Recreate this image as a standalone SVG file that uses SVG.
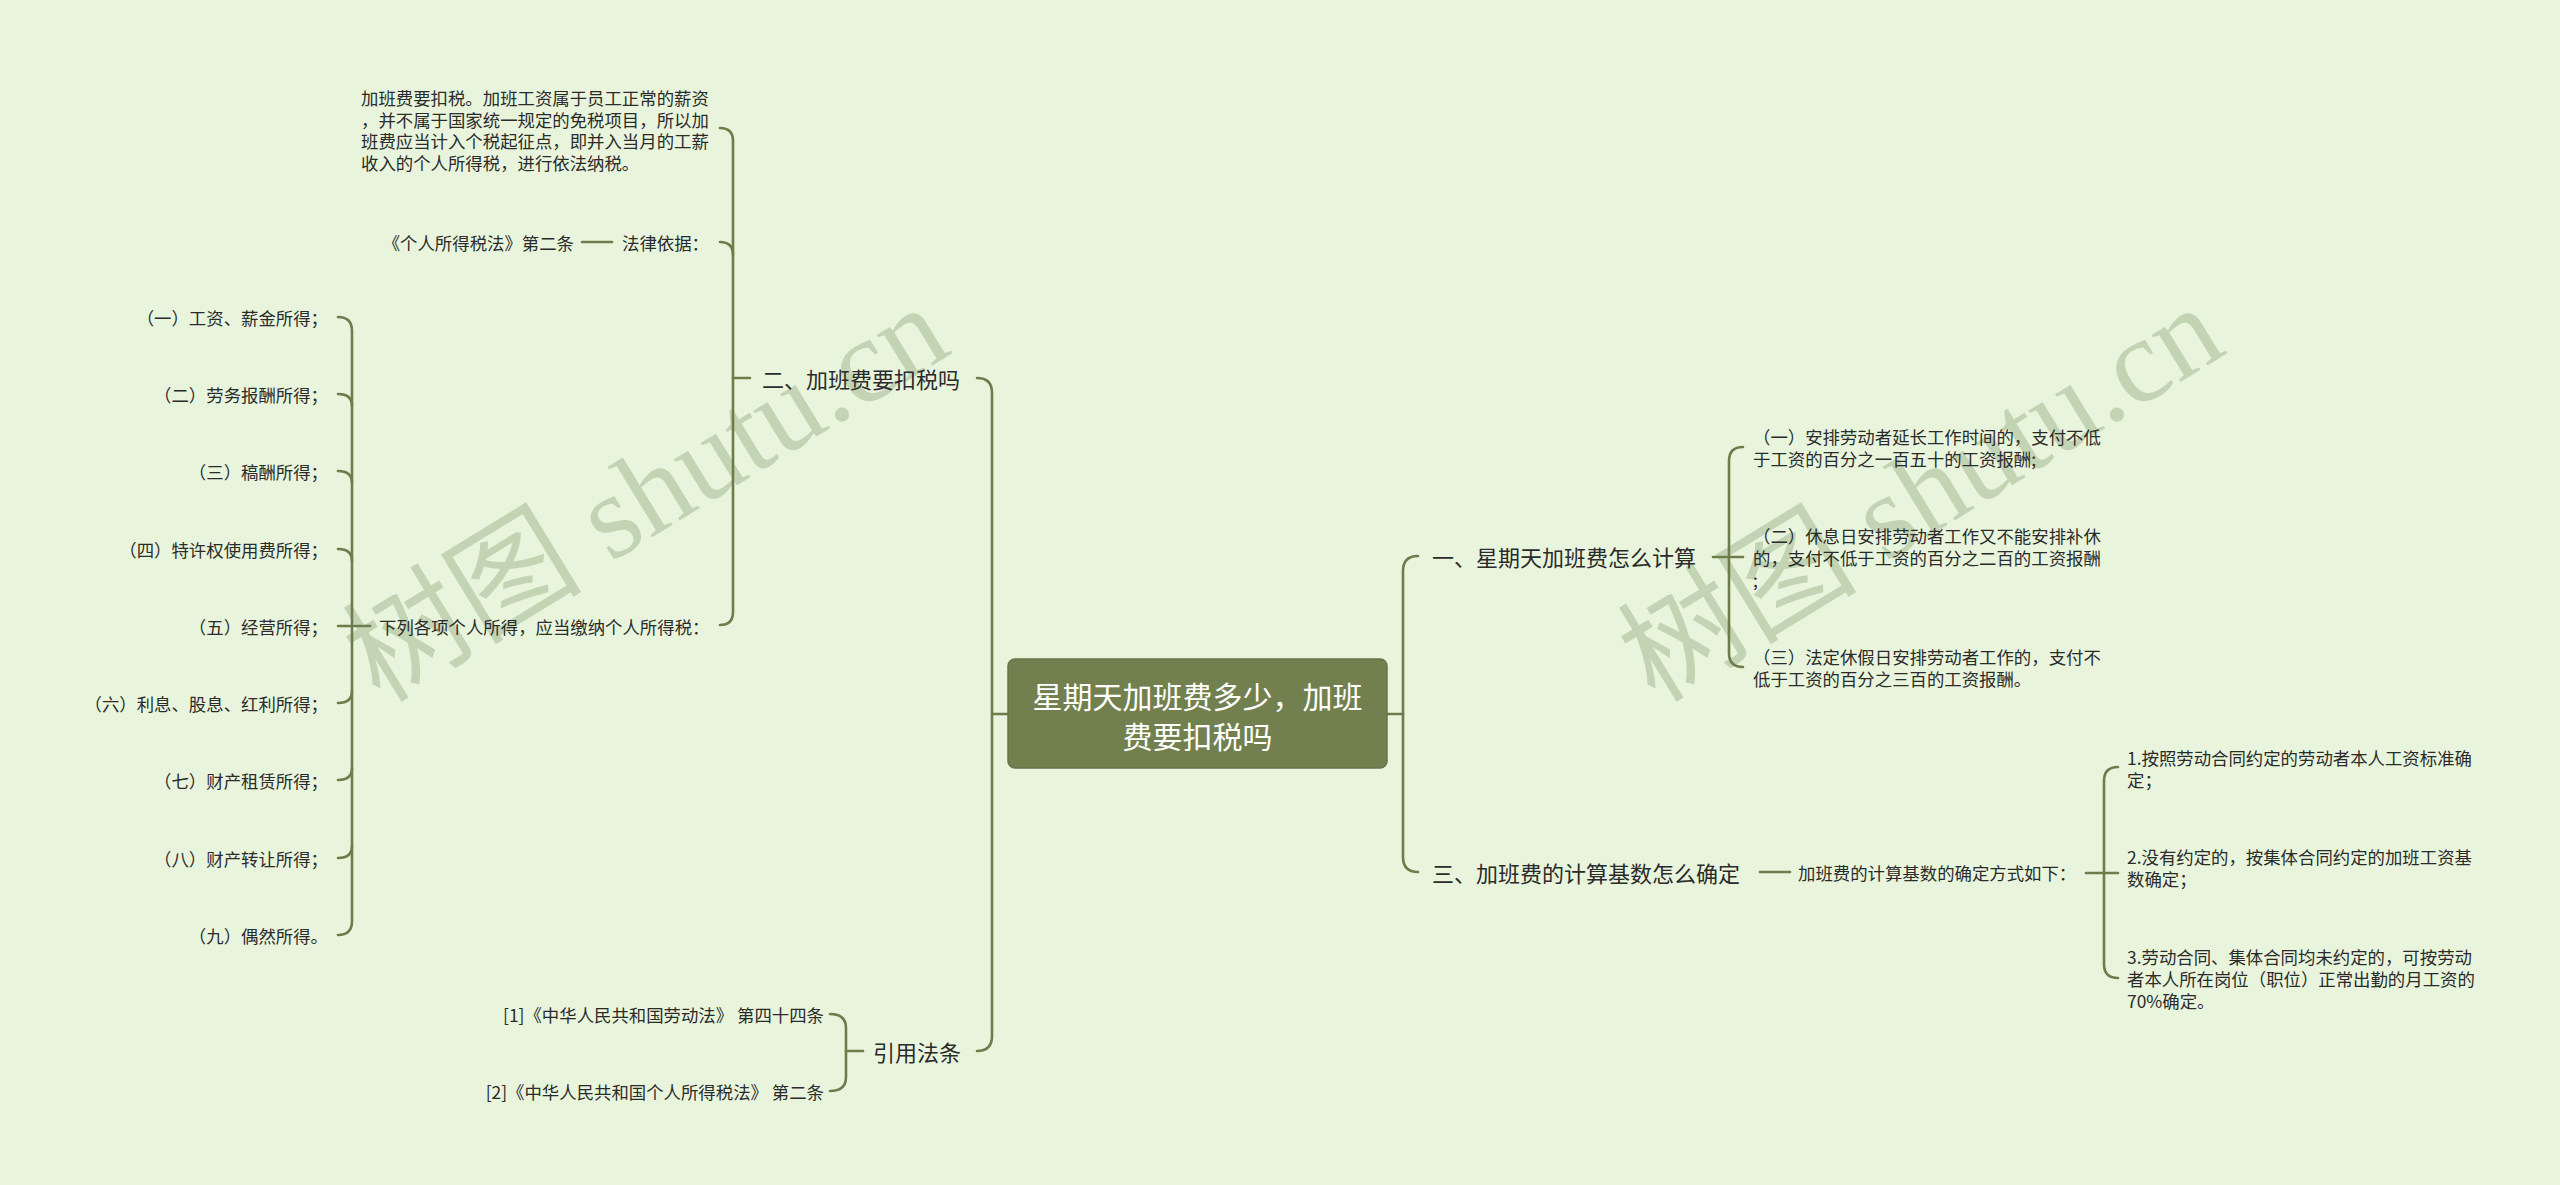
<svg xmlns="http://www.w3.org/2000/svg" width="2560" height="1185" viewBox="0 0 2560 1185">
<style>
.bg{fill:#e8f5dc}
.ln{fill:none;stroke:#6e7c4c;stroke-width:2.6;stroke-linecap:round}
.t{font-family:"Noto Sans CJK SC","Noto Sans",sans-serif;fill:#2b2b2b;dominant-baseline:central}
.s{font-size:17.4px}
.m{font-size:22px}
.root{font-size:30px;fill:#ffffff;text-anchor:middle}
.wm{font-family:"Liberation Serif","Noto Sans CJK SC",serif;font-size:120px;fill:#9bb08a;opacity:0.47}
</style>
<rect class="bg" x="0" y="0" width="2560" height="1185"/>
<g id="watermarks">
<text class="wm" transform="translate(380,704) rotate(-31.5)">树图 shutu.cn</text>
<text class="wm" transform="translate(1655,704) rotate(-31.5)">树图 shutu.cn</text>
</g>
<g id="connectors">
<path class="ln" d="M977,378 Q992,378 992,393 L992,1036 Q992,1051 977,1051"/>
<path class="ln" d="M992,714 L1008,714"/>
<path class="ln" d="M1418,556 Q1403,556 1403,571 L1403,857 Q1403,872 1418,872"/>
<path class="ln" d="M1387,714 L1403,714"/>
<path class="ln" d="M720,128 Q733,128 733,141 L733,612 Q733,625 720,625"/>
<path class="ln" d="M720,242 Q733,242 733,255"/>
<path class="ln" d="M733,378 L750,378"/>
<path class="ln" d="M582,242 L612,242"/>
<path class="ln" d="M338,317 Q352,317 352,331 L352,921 Q352,935 338,935"/>
<path class="ln" d="M338,394 Q352,394 352,406"/>
<path class="ln" d="M338,471 Q352,471 352,483"/>
<path class="ln" d="M338,549 Q352,549 352,561"/>
<path class="ln" d="M338,626 L370,626"/>
<path class="ln" d="M338,703 Q352,703 352,691"/>
<path class="ln" d="M338,780 Q352,780 352,768"/>
<path class="ln" d="M338,858 Q352,858 352,846"/>
<path class="ln" d="M830,1014 Q846,1014 846,1028 L846,1077 Q846,1091 830,1091"/>
<path class="ln" d="M846,1051 L863,1051"/>
<path class="ln" d="M1743,447 Q1729,447 1729,461 L1729,653 Q1729,667 1743,667"/>
<path class="ln" d="M1713,557 L1743,557"/>
<path class="ln" d="M1760,872 L1790,872"/>
<path class="ln" d="M2086,873 L2118,873"/>
<path class="ln" d="M2118,767 Q2104,767 2104,781 L2104,964 Q2104,978 2118,978"/>
</g>
<g id="root">
<rect x="1008" y="659" width="379" height="109" rx="7" fill="#72804f" stroke="#66744a" stroke-width="1.5"/>
<text class="t root"><tspan x="1197.5" y="695">星期天加班费多少，加班</tspan><tspan x="1197.5" y="735">费要扣税吗</tspan></text>
</g>
<g id="n-er">
<text class="t m" x="762" y="378">二、加班费要扣税吗</text>
</g>
<g id="n-er-para">
<text class="t s"><tspan x="361" y="97">加班费要扣税。加班工资属于员工正常的薪资</tspan><tspan x="361" y="118.5">，并不属于国家统一规定的免税项目，所以加</tspan><tspan x="361" y="140">班费应当计入个税起征点，即并入当月的工薪</tspan><tspan x="361" y="161.5">收入的个人所得税，进行依法纳税。</tspan></text>
</g>
<g id="n-falv">
<text class="t s" x="622" y="242">法律依据：</text>
</g>
<g id="n-falv-1">
<text class="t s" x="574" y="242" text-anchor="end">《个人所得税法》第二条</text>
</g>
<g id="n-xialie">
<text class="t s" x="379" y="626">下列各项个人所得，应当缴纳个人所得税：</text>
</g>
<g id="n-items">
<text class="t s" x="328" y="317" text-anchor="end">（一）工资、薪金所得；</text>
<text class="t s" x="328" y="394" text-anchor="end">（二）劳务报酬所得；</text>
<text class="t s" x="328" y="471" text-anchor="end">（三）稿酬所得；</text>
<text class="t s" x="328" y="549" text-anchor="end">（四）特许权使用费所得；</text>
<text class="t s" x="328" y="626" text-anchor="end">（五）经营所得；</text>
<text class="t s" x="328" y="703" text-anchor="end">（六）利息、股息、红利所得；</text>
<text class="t s" x="328" y="780" text-anchor="end">（七）财产租赁所得；</text>
<text class="t s" x="328" y="858" text-anchor="end">（八）财产转让所得；</text>
<text class="t s" x="328" y="935" text-anchor="end">（九）偶然所得。</text>
</g>
<g id="n-yinyong">
<text class="t m" x="873" y="1051">引用法条</text>
</g>
<g id="n-yinyong-1">
<text class="t s" x="824" y="1014" text-anchor="end">[1]《中华人民共和国劳动法》 第四十四条</text>
</g>
<g id="n-yinyong-2">
<text class="t s" x="824" y="1091" text-anchor="end">[2]《中华人民共和国个人所得税法》 第二条</text>
</g>
<g id="n-yi">
<text class="t m" x="1432" y="556">一、星期天加班费怎么计算</text>
</g>
<g id="n-yi-1">
<text class="t s"><tspan x="1753" y="436">（一）安排劳动者延长工作时间的，支付不低</tspan><tspan x="1753" y="457.5">于工资的百分之一百五十的工资报酬;</tspan></text>
</g>
<g id="n-yi-2">
<text class="t s"><tspan x="1753" y="535">（二）休息日安排劳动者工作又不能安排补休</tspan><tspan x="1753" y="557">的，支付不低于工资的百分之二百的工资报酬</tspan><tspan x="1753" y="579">;</tspan></text>
</g>
<g id="n-yi-3">
<text class="t s"><tspan x="1753" y="656">（三）法定休假日安排劳动者工作的，支付不</tspan><tspan x="1753" y="678">低于工资的百分之三百的工资报酬。</tspan></text>
</g>
<g id="n-san">
<text class="t m" x="1432" y="872">三、加班费的计算基数怎么确定</text>
</g>
<g id="n-san-1">
<text class="t s" x="1798" y="872">加班费的计算基数的确定方式如下：</text>
</g>
<g id="n-san-a">
<text class="t s"><tspan x="2127" y="757">1.按照劳动合同约定的劳动者本人工资标准确</tspan><tspan x="2127" y="779">定；</tspan></text>
</g>
<g id="n-san-b">
<text class="t s"><tspan x="2127" y="856">2.没有约定的，按集体合同约定的加班工资基</tspan><tspan x="2127" y="878">数确定；</tspan></text>
</g>
<g id="n-san-c">
<text class="t s"><tspan x="2127" y="956">3.劳动合同、集体合同均未约定的，可按劳动</tspan><tspan x="2127" y="978">者本人所在岗位（职位）正常出勤的月工资的</tspan><tspan x="2127" y="1000">70%确定。</tspan></text>
</g>
</svg>
